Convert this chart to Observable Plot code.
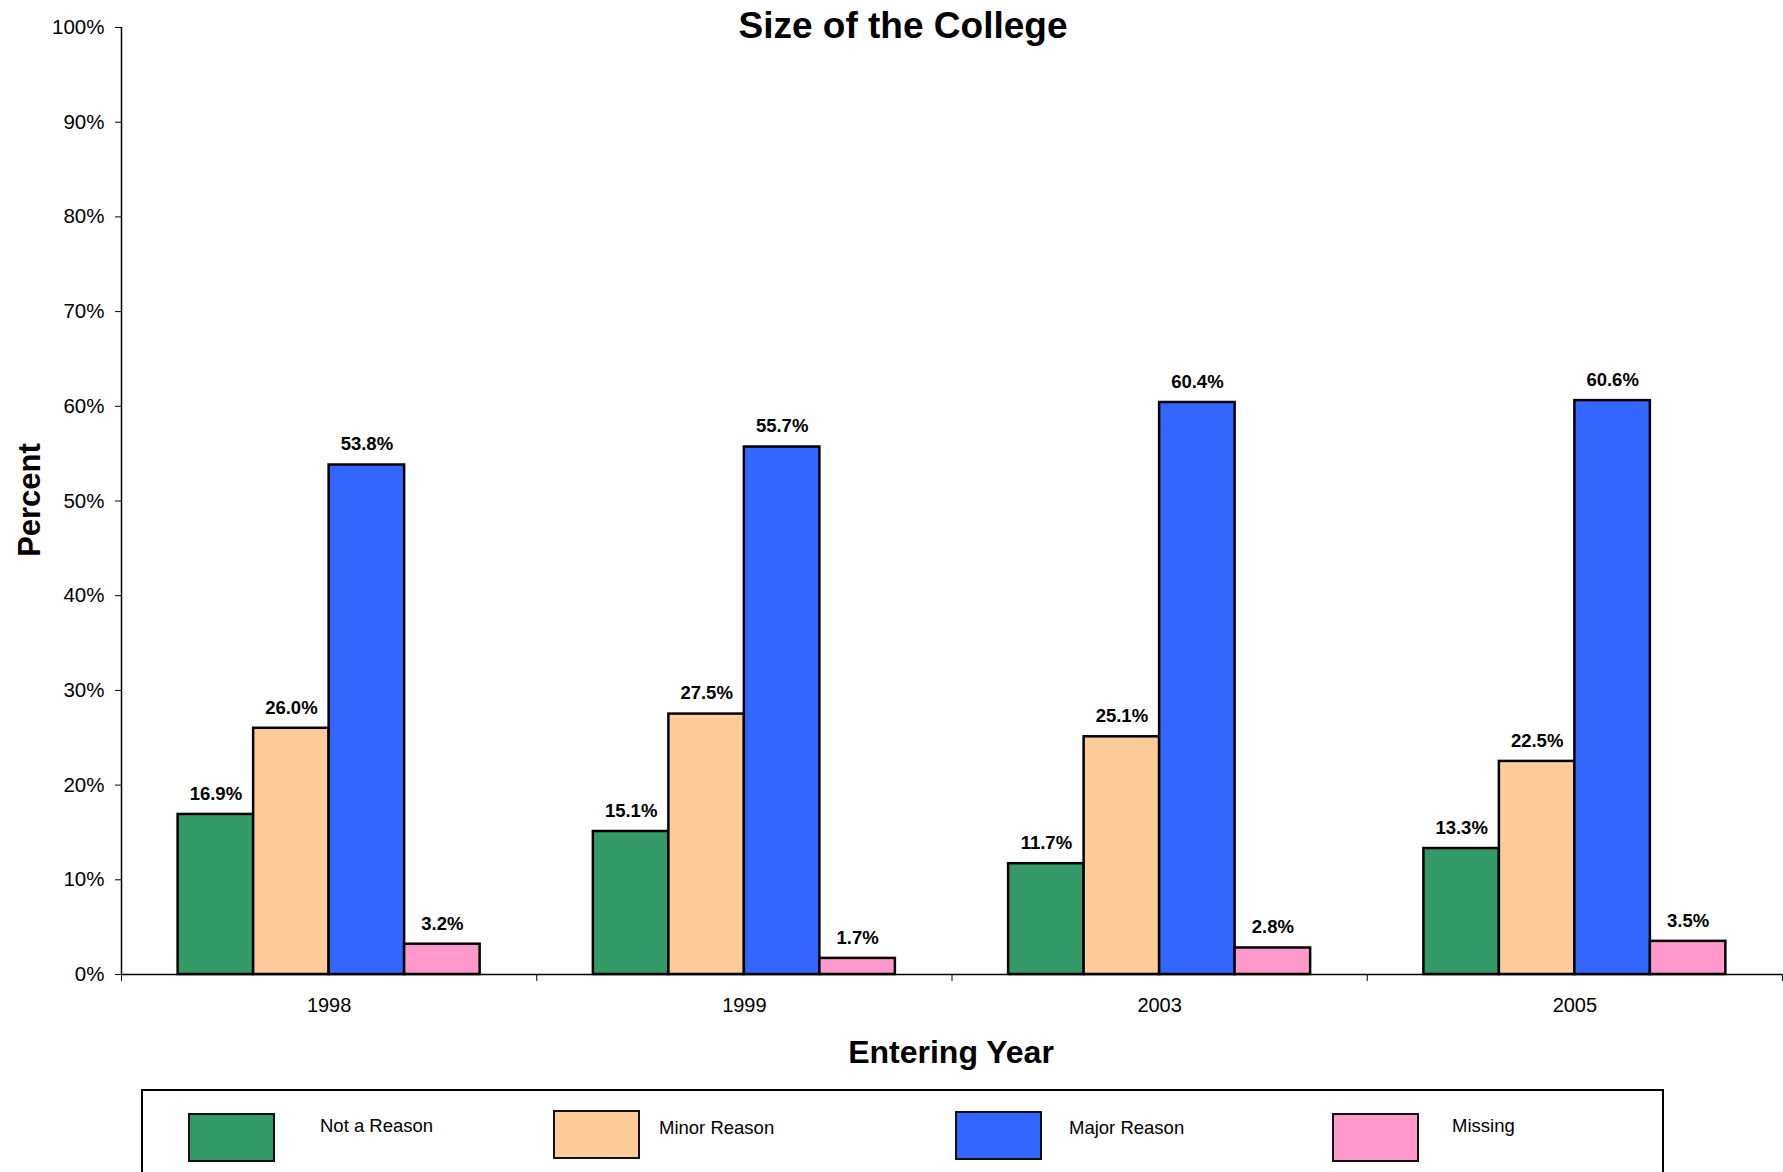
<!DOCTYPE html>
<html>
<head>
<meta charset="utf-8">
<script src="https://cdn.jsdelivr.net/npm/d3@7"></script>
<script src="https://cdn.jsdelivr.net/npm/@observablehq/plot@0.6"></script>
<style>
  html, body { margin: 0; padding: 0; background: #fff; overflow: hidden; }
  #wrap { position: relative; width: 1783px; height: 1172px; font-family: "Liberation Sans", Arial, sans-serif; color: #000; }
  #wrap svg { position: absolute; left: 0; top: 0; }
  .abs { position: absolute; line-height: 1; white-space: nowrap; }
  #title { font-size: 37px; font-weight: bold; left: 903px; top: 7px; transform: translateX(-50%); }
  #ylab { font-size: 31px; font-weight: bold; left: 29px; top: 500px; transform: translate(-50%, -50%) rotate(-90deg); }
  #xlab { font-size: 32px; font-weight: bold; left: 951px; top: 1036px; transform: translateX(-50%); }
  #legend { position: absolute; left: 141px; top: 1089px; width: 1523px; height: 120px; border: 2px solid #000; box-sizing: border-box; }
  .sw { position: absolute; width: 87px; height: 49px; border: 2px solid #111; box-sizing: border-box; }
  .lt { position: absolute; font-size: 18.5px; line-height: 1; white-space: nowrap; }
</style>
</head>
<body>
<div id="wrap">
  <div id="title" class="abs"></div>
  <div id="ylab" class="abs"></div>
  <div id="xlab" class="abs"></div>
  <div id="legend"></div>
</div>
<script>
// ---- data ----
const title = "Size of the College";
const yLabel = "Percent";
const xLabel = "Entering Year";
const years = ["1998", "1999", "2003", "2005"];
const series = ["Not a Reason", "Minor Reason", "Major Reason", "Missing"];
const notAReason = [16.9, 15.1, 11.7, 13.3];
const minorReason = [26.0, 27.5, 25.1, 22.5];
const majorReason = [53.8, 55.7, 60.4, 60.6];
const missing = [3.2, 1.7, 2.8, 3.5];
const yTicks = [0, 10, 20, 30, 40, 50, 60, 70, 80, 90, 100];

// ---- styles ----
const colors = ["#339966", "#FFCC99", "#3366FF", "#FF99CC"];
// legend layout (page pixels, relative to legend box)
const legendSwatchLeft = [47, 412, 814, 1191];
const legendSwatchTop = [24, 21, 22, 24];
const legendTextLeft = [179, 518, 928, 1311];
const legendTextTop = [28, 30, 30, 28];

const values = [notAReason, minorReason, majorReason, missing];
const rows = years.flatMap((year, i) => series.map((s, j) => ({year, series: s, value: values[j][i], i, j})));

const PAD = 0.75;
const SLOTS = series.length + 2 * PAD;

const chart = Plot.plot({
  width: 1783,
  height: 1080,
  marginTop: 27,
  marginBottom: 106,
  marginLeft: 121,
  marginRight: 1,
  style: {fontFamily: "'Liberation Sans', Arial, sans-serif", color: "#000", background: "transparent", overflow: "visible"},
  x: {domain: [0, years.length], axis: null},
  y: {domain: [0, 100], axis: null},
  color: {domain: series, range: colors},
  marks: [
    Plot.axisY({ticks: yTicks, tickFormat: d => d + "%", tickSize: 6, tickPadding: 11, fontSize: 20.5, label: null}),
    Plot.axisX({ticks: d3.range(0, years.length + 1), tickFormat: () => "", tickSize: 7, label: null}),
    Plot.axisX({ticks: years.map((_, i) => i + 0.5), tickFormat: t => years[Math.floor(t)], tickSize: 0, tickPadding: 23, fontSize: 20, label: null}),
    Plot.rectY(rows, {
      x1: d => d.i + (PAD + d.j) / SLOTS,
      x2: d => d.i + (PAD + d.j + 1) / SLOTS,
      y1: 0,
      y2: "value",
      fill: "series",
      stroke: "#000",
      strokeWidth: 2.5
    }),
    Plot.ruleY([0], {stroke: "#000", strokeWidth: 1.5}),
    Plot.ruleX([0], {stroke: "#000", strokeWidth: 1.5}),
    Plot.text(rows, {
      x: d => d.i + (PAD + d.j + 0.5) / SLOTS,
      y: "value",
      text: d => d.value.toFixed(1) + "%",
      dy: -20.5,
      fontWeight: "bold",
      fontSize: 18.5,
      fill: "#000"
    })
  ]
});
document.getElementById("wrap").prepend(chart);

document.getElementById("title").textContent = title;
document.getElementById("ylab").textContent = yLabel;
document.getElementById("xlab").textContent = xLabel;

const legend = document.getElementById("legend");
series.forEach((s, k) => {
  const sw = document.createElement("div");
  sw.className = "sw";
  sw.style.left = (legendSwatchLeft[k] - 2) + "px";
  sw.style.top = (legendSwatchTop[k] - 2) + "px";
  sw.style.background = colors[k];
  legend.appendChild(sw);
  const t = document.createElement("div");
  t.className = "lt";
  t.style.left = (legendTextLeft[k] - 2) + "px";
  t.style.top = (legendTextTop[k] - 2) + "px";
  t.textContent = s;
  legend.appendChild(t);
});
</script>
</body>
</html>
